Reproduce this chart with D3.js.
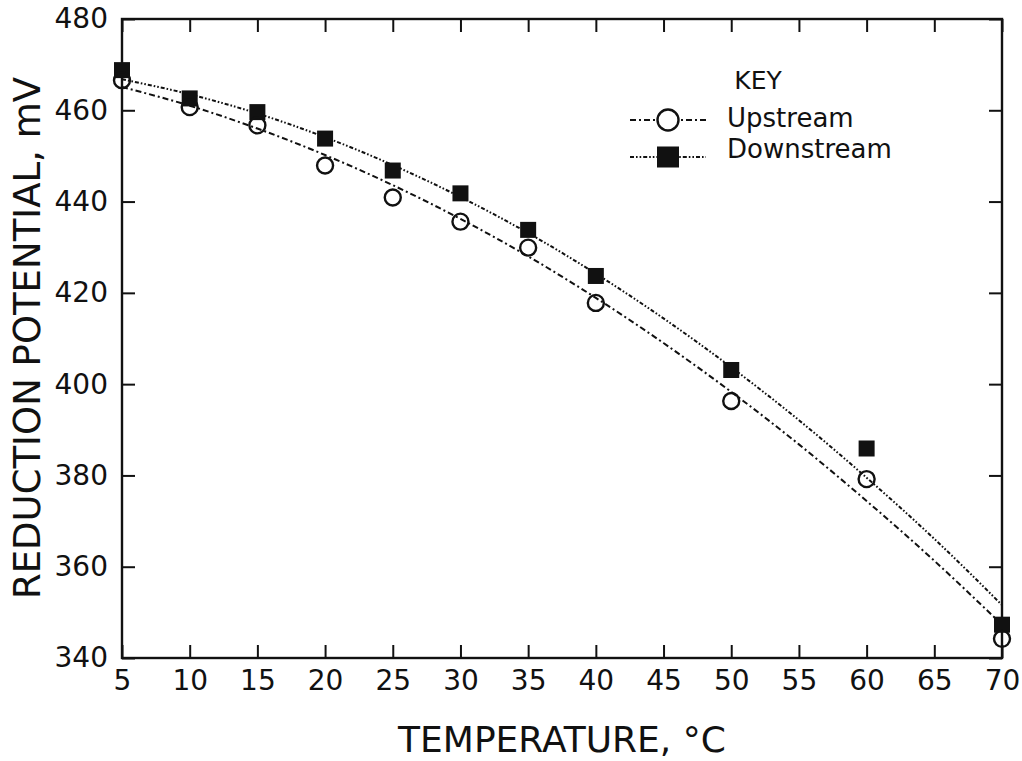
<!DOCTYPE html>
<html>
<head>
<meta charset="utf-8">
<script src="https://cdn.jsdelivr.net/npm/d3@7"></script>
<style>
  html, body { margin: 0; padding: 0; background: #fff; }
  svg { display: block; }
  text { font-family: "DejaVu Sans", sans-serif; fill: #111; }
</style>
</head>
<body>
<svg id="chart" width="1022" height="761"></svg>
<script>
// ---- data ----
const temps = [5, 10, 15, 20, 25, 30, 35, 40, 50, 60, 70];
const upstream = [466.6, 460.7, 456.7, 447.9, 440.9, 435.6, 429.9, 417.8, 396.3, 379.2, 344.2];
const downstream = [468.8, 462.6, 459.6, 453.8, 446.8, 441.8, 433.8, 423.7, 403.1, 385.9, 347.3];

// fitted curves as drawn in the reference (read at 5-degree steps)
const fitTemps = [5, 10, 15, 20, 25, 30, 35, 40, 45, 50, 55, 60, 65, 70];
const fitUpstream = [465.1, 461.0, 456.0, 450.2, 443.6, 436.2, 428.0, 418.9, 409.0, 398.3, 386.8, 374.4, 361.3, 347.3];
const fitDownstream = [466.8, 463.5, 459.3, 454.1, 448.0, 441.0, 433.1, 424.2, 414.4, 403.7, 392.1, 379.5, 366.1, 351.6];

const xTicks = [5, 10, 15, 20, 25, 30, 35, 40, 45, 50, 55, 60, 65, 70];
const yTicks = [340, 360, 380, 400, 420, 440, 460, 480];

const xTitle = "TEMPERATURE, °C";
const yTitle = "REDUCTION POTENTIAL, mV";
const legendTitle = "KEY";
const seriesNames = ["Upstream", "Downstream"];

// ---- layout ----
const svg = d3.select("#chart");
const pL = 122, pR = 1002, pT = 19, pB = 658;

const x = d3.scaleLinear().domain([5, 70]).range([pL, pR]);
const y = d3.scaleLinear().domain([340, 480]).range([pB, pT]);

const ink = "#111";
const tickLen = 13;

// frame
svg.append("rect")
  .attr("x", pL).attr("y", pT)
  .attr("width", pR - pL).attr("height", pB - pT)
  .attr("fill", "none").attr("stroke", ink).attr("stroke-width", 2.4);

// axes with inward ticks
const xAxisB = d3.axisBottom(x).tickValues(xTicks).tickSize(-tickLen).tickPadding(12).tickFormat(d3.format("d"));
const xAxisT = d3.axisTop(x).tickValues(xTicks).tickSize(-tickLen).tickFormat("");
const yAxisL = d3.axisLeft(y).tickValues(yTicks).tickSize(-tickLen).tickPadding(14).tickFormat(d3.format("d"));
const yAxisR = d3.axisRight(y).tickValues(yTicks).tickSize(-tickLen).tickFormat("");

function styleAxis(g) {
  g.select(".domain").remove();
  g.selectAll(".tick line").attr("stroke", ink).attr("stroke-width", 2);
  g.selectAll(".tick text").attr("font-family", "DejaVu Sans, sans-serif").attr("font-size", 28).attr("fill", ink);
}

svg.append("g").attr("transform", `translate(0,${pB})`).call(xAxisB).call(styleAxis);
svg.append("g").attr("transform", `translate(0,${pT})`).call(xAxisT).call(styleAxis);
svg.append("g").attr("transform", `translate(${pL},0)`).call(yAxisL).call(styleAxis);
svg.append("g").attr("transform", `translate(${pR},0)`).call(yAxisR).call(styleAxis);

// titles
svg.append("text")
  .attr("x", 562).attr("y", 752)
  .attr("text-anchor", "middle").attr("font-size", 36)
  .text(xTitle);

svg.append("text")
  .attr("transform", `translate(40,338) rotate(-90)`)
  .attr("text-anchor", "middle").attr("font-size", 37)
  .text(yTitle);

// fitted lines
const line = d3.line().x(d => x(d[0])).y(d => y(d[1])).curve(d3.curveMonotoneX);
const dashUp = "6,3,2,3";
const dashDown = "4,2,1.6,2,1.6,2";

svg.append("path")
  .datum(fitTemps.map((t, i) => [t, fitUpstream[i]]))
  .attr("d", line).attr("fill", "none").attr("stroke", ink)
  .attr("stroke-width", 2).attr("stroke-dasharray", dashUp);

svg.append("path")
  .datum(fitTemps.map((t, i) => [t, fitDownstream[i]]))
  .attr("d", line).attr("fill", "none").attr("stroke", ink)
  .attr("stroke-width", 2).attr("stroke-dasharray", dashDown);

// markers
const sq = 16;
svg.append("g").selectAll("rect")
  .data(temps.map((t, i) => [t, downstream[i]]))
  .join("rect")
  .attr("x", d => x(d[0]) - sq / 2).attr("y", d => y(d[1]) - sq / 2)
  .attr("width", sq).attr("height", sq)
  .attr("fill", ink);

svg.append("g").selectAll("circle")
  .data(temps.map((t, i) => [t, upstream[i]]))
  .join("circle")
  .attr("cx", d => x(d[0])).attr("cy", d => y(d[1]))
  .attr("r", 8)
  .attr("fill", "none").attr("stroke", ink).attr("stroke-width", 2.4);

// legend
const lg = svg.append("g");
lg.append("text").attr("x", 758).attr("y", 89)
  .attr("text-anchor", "middle").attr("font-size", 25).text(legendTitle);

lg.append("line").attr("x1", 630).attr("x2", 706).attr("y1", 120).attr("y2", 120)
  .attr("stroke", ink).attr("stroke-width", 2).attr("stroke-dasharray", dashUp);
lg.append("circle").attr("cx", 668).attr("cy", 120).attr("r", 10.5)
  .attr("fill", "#fff").attr("stroke", ink).attr("stroke-width", 2.4);
lg.append("text").attr("x", 727).attr("y", 127).attr("font-size", 26).text(seriesNames[0]);

lg.append("line").attr("x1", 630).attr("x2", 706).attr("y1", 157).attr("y2", 157)
  .attr("stroke", ink).attr("stroke-width", 2).attr("stroke-dasharray", dashDown);
lg.append("rect").attr("x", 657).attr("y", 146.5).attr("width", 22).attr("height", 21)
  .attr("fill", ink);
lg.append("text").attr("x", 727).attr("y", 158).attr("font-size", 26).text(seriesNames[1]);
</script>
</body>
</html>
